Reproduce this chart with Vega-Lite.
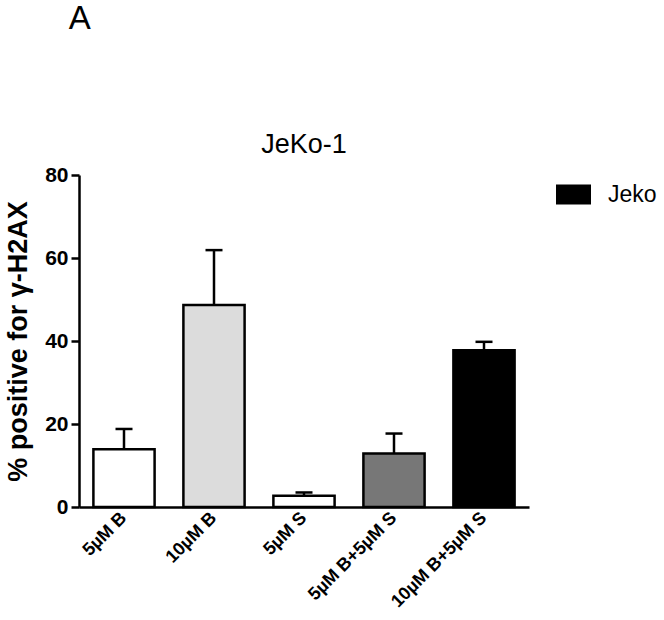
{
  "$schema": "https://vega.github.io/schema/vega-lite/v6.json",
  "background": "white",
  "padding": {"left": 4, "top": 3, "right": 5, "bottom": 5},
  "title": {"text": "A", "anchor": "start", "frame": "bounds", "font": "Liberation Sans", "fontSize": 33, "fontWeight": "normal", "color": "black", "dx": 64, "offset": 95},
  "config": {
    "view": {"stroke": null},
    "font": "Liberation Sans"
  },
  "vconcat": [
    {
      "width": 450,
      "height": 332,
      "title": {"text": "JeKo-1", "font": "Liberation Sans", "fontSize": 27, "fontWeight": "normal", "color": "black", "offset": 5},
      "data": {"values": [
        {"treatment": "5µM B", "value": 13.9, "upper": 18.8, "fill": "#ffffff", "series": "Jeko"},
        {"treatment": "10µM B", "value": 48.7, "upper": 61.9, "fill": "#dcdcdc", "series": "Jeko"},
        {"treatment": "5µM S", "value": 2.7, "upper": 3.5, "fill": "#ffffff", "series": "Jeko"},
        {"treatment": "5µM B+5µM S", "value": 12.9, "upper": 17.7, "fill": "#777777", "series": "Jeko"},
        {"treatment": "10µM B+5µM S", "value": 37.8, "upper": 39.8, "fill": "#000000", "series": "Jeko"}
      ]},
      "encoding": {
        "x": {
          "field": "treatment", "type": "nominal", "sort": null,
          "scale": {"paddingInner": 0.32, "paddingOuter": 0.16},
          "axis": {
            "title": null, "labelAngle": -45, "labelAlign": "right", "labelBaseline": "middle",
            "labelFont": "Liberation Sans", "labelFontWeight": "bold", "labelFontSize": 18, "labelColor": "black",
            "labelPadding": 8, "ticks": false, "domainColor": "black", "domainWidth": 2.5
          }
        }
      },
      "layer": [
        {
          "mark": {"type": "rule", "strokeWidth": 2.5, "color": "black"},
          "encoding": {
            "y": {"field": "value", "type": "quantitative"},
            "y2": {"field": "upper"}
          }
        },
        {
          "mark": {"type": "tick", "orient": "horizontal", "size": 17, "thickness": 2.5, "color": "black", "opacity": 1},
          "encoding": {
            "y": {"field": "upper", "type": "quantitative"}
          }
        },
        {
          "mark": {"type": "bar", "strokeWidth": 2.5, "strokeJoin": "miter"},
          "encoding": {
            "y": {
              "field": "value", "type": "quantitative",
              "scale": {"domain": [0, 80], "nice": false},
              "axis": {
                "values": [0, 20, 40, 60, 80], "grid": false,
                "title": "% positive for γ-H2AX", "titleFont": "Liberation Sans", "titleFontSize": 27, "titleFontWeight": "bold", "titleColor": "black", "titlePadding": 12,
                "labelFont": "Liberation Sans", "labelFontSize": 21, "labelFontWeight": "bold", "labelColor": "black", "labelPadding": 3,
                "tickColor": "black", "tickWidth": 2.5, "tickSize": 8,
                "domainColor": "black", "domainWidth": 2.5
              }
            },
            "fill": {"field": "fill", "type": "nominal", "scale": null, "legend": null},
            "stroke": {
              "field": "series", "type": "nominal",
              "scale": {"domain": ["Jeko"], "range": ["black"]},
              "legend": {
                "title": null, "orient": "none", "legendX": 477, "legendY": 2, "padding": 0,
                "symbolType": "M-1,-0.57H1V0.57H-1Z", "symbolSize": 1225, "symbolStrokeWidth": 0,
                "labelFont": "Liberation Sans", "labelFontSize": 23, "labelColor": "black", "labelOffset": 17,
                "encode": {"symbols": {"update": {"fill": {"value": "black"}, "opacity": {"value": 1}}}}
              }
            }
          }
        }
      ]
    }
  ]
}
